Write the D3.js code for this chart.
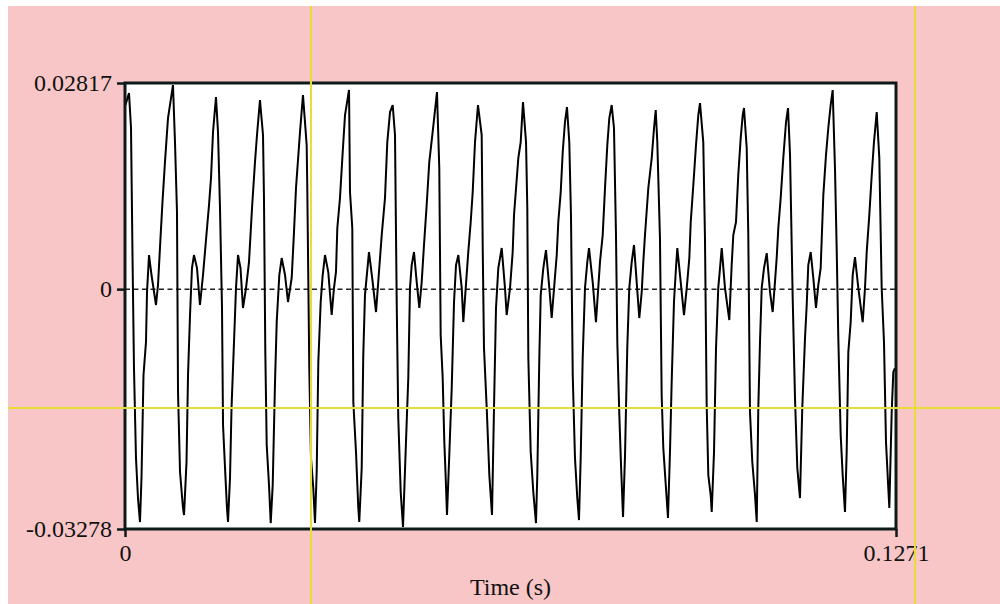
<!DOCTYPE html>
<html>
<head>
<meta charset="utf-8">
<script src="https://cdn.jsdelivr.net/npm/d3@7"></script>
<style>
  html, body { margin: 0; padding: 0; background: #ffffff; }
  svg { display: block; }
</style>
</head>
<body>
<svg id="chart" width="1000" height="604"></svg>
<script>
// ---- data (time in ms, amplitude in thousandths) ----
const xTickValues = [0, 0.1271];
const xTickLabels = ["0", "0.1271"];
const yTickValues = [-0.03278, 0, 0.02817];
const yTickLabels = ["-0.03278", "0", "0.02817"];
const xAxisTitle = "Time (s)";
const cursorTime = [0.03066, 0.13023];  // vertical cursor lines (s)
const cursorAmp = [-0.01624];           // horizontal cursor line

const wave = [
  [0.08,25.16],[0.66,26.80],[0.99,22.02],[1.24,4.39],[1.48,-10.78],[1.81,-23.08],[2.14,-28.55],[2.47,-31.83],[2.72,-25.82],[3.05,-11.74],[3.46,-7.23],[3.63,-0.40],[3.96,4.66],[4.37,1.93],[5.11,-2.17],[5.44,0.56],[5.85,6.98],[6.18,11.90],[6.59,17.37],[7.09,23.38],[7.91,27.89],
  [8.24,20.10],[8.57,10.54],[8.74,-14.06],[9.07,-25.00],[9.56,-29.91],[9.73,-30.87],[10.14,-23.63],[10.39,-11.74],[10.72,-3.54],[11.04,2.88],[11.37,4.66],[11.87,2.88],[12.36,-2.17],[12.86,1.93],[13.52,8.35],[13.85,11.49],[14.18,15.18],[14.51,21.48],[15.00,26.25],
  [15.33,21.48],[15.66,11.08],[15.99,-2.58],[16.16,-18.57],[16.49,-24.45],[16.81,-29.91],[16.98,-31.83],[17.31,-25.82],[17.56,-16.25],[17.97,-7.23],[18.30,0.15],[18.63,4.66],[19.04,2.88],[19.45,-2.58],[19.95,0.15],[20.44,3.70],[20.94,11.08],[21.43,17.37],[21.76,21.06],[22.25,25.84],
  [22.75,21.06],[22.91,12.45],[23.13,-8.60],[23.36,-21.31],[23.74,-26.77],[24.02,-31.97],[24.35,-26.77],[24.73,-12.70],[25.01,-4.50],[25.44,1.93],[25.83,4.25],[26.38,1.93],[26.87,-1.76],[27.48,1.52],[27.86,7.80],[28.19,13.82],[28.85,21.48],[29.34,26.53],
  [29.95,19.69],[30.05,13.82],[30.38,-10.78],[30.66,-23.08],[31.04,-27.18],[31.32,-31.97],[31.60,-25.00],[31.87,-9.96],[32.26,-1.76],[32.59,1.93],[32.97,4.66],[33.51,2.34],[34.07,-3.54],[34.45,0.15],[34.78,2.34],[35.00,8.35],[35.44,12.45],[35.89,18.74],[36.27,23.79],[36.93,27.21],
  [37.09,13.27],[37.47,8.35],[37.64,-15.43],[38.08,-22.26],[38.46,-29.91],[38.62,-31.83],[39.02,-24.45],[39.28,-9.01],[39.56,-0.81],[40.22,5.07],[40.83,0.97],[41.38,-3.13],[42.04,4.25],[42.32,7.39],[42.86,12.45],[43.24,20.10],[43.69,24.20],[44.13,25.16],
  [44.51,21.06],[44.79,-1.76],[45.05,-17.62],[45.45,-27.73],[45.83,-32.51],[46.32,-20.90],[46.70,-12.15],[46.98,0.15],[47.26,3.29],[47.64,5.07],[48.09,0.97],[48.52,-2.58],[48.91,0.97],[49.29,6.03],[49.73,11.49],[50.16,17.37],[50.72,21.48],[51.43,26.94],
  [51.81,16.55],[52.04,-6.27],[52.37,-12.15],[52.64,-20.90],[52.87,-25.82],[53.08,-30.87],[53.46,-22.67],[53.86,-13.52],[54.24,-1.76],[54.57,3.29],[54.95,4.66],[55.51,0.15],[55.77,-4.50],[56.59,5.07],[56.99,9.17],[57.32,13.27],[57.70,20.10],[58.19,25.16],
  [58.80,21.06],[58.97,5.62],[59.18,-8.05],[59.63,-16.25],[60.06,-25.41],[60.50,-30.87],[60.83,-16.25],[61.16,-2.58],[61.54,2.88],[62.10,5.62],[62.64,0.15],[62.92,-3.54],[63.47,0.15],[63.91,5.07],[64.13,10.13],[64.84,17.92],[65.23,20.10],[65.61,25.57],
  [66.11,20.10],[66.32,11.08],[66.49,-9.42],[66.88,-22.26],[67.31,-27.73],[67.75,-31.97],[67.97,-25.41],[68.30,-9.42],[68.53,-0.81],[68.96,2.88],[69.40,5.34],[69.95,0.15],[70.34,-3.95],[71.17,4.66],[71.43,9.17],[71.83,13.27],[72.16,18.74],[72.53,22.84],[72.86,24.88],
  [73.24,20.10],[73.52,10.13],[73.81,-11.74],[74.18,-23.08],[74.56,-28.55],[74.84,-31.56],[75.12,-23.08],[75.45,-9.42],[75.83,0.15],[76.21,3.70],[76.49,5.62],[77.10,0.97],[77.64,-4.50],[78.30,3.70],[78.75,7.39],[79.13,13.82],[79.51,19.69],[79.84,23.38],[80.23,25.16],
  [80.61,22.02],[80.94,7.39],[81.16,-7.23],[81.49,-17.21],[81.77,-24.04],[82.10,-31.15],[82.43,-22.67],[82.80,-8.05],[83.13,0.15],[83.53,3.70],[83.91,6.03],[84.35,0.97],[84.78,-3.95],[85.18,-0.40],[85.44,3.70],[85.72,7.39],[86.27,13.82],[86.83,17.92],[87.21,22.02],[87.49,24.47],
  [87.75,20.10],[88.19,6.98],[88.47,-14.47],[88.74,-21.72],[89.18,-27.18],[89.51,-31.28],[89.84,-22.26],[90.12,-12.70],[90.50,-1.76],[90.83,2.88],[91.05,5.62],[91.61,0.97],[92.15,-3.54],[92.60,0.15],[93.03,4.25],[93.26,9.17],[93.69,14.23],[94.13,19.69],[94.51,23.79],[94.79,25.43],
  [95.33,20.10],[95.61,6.98],[95.89,-15.84],[96.16,-25.41],[96.55,-28.14],[96.72,-30.46],[97.10,-22.26],[97.43,-8.05],[97.80,0.15],[98.09,2.88],[98.37,5.62],[98.91,0.15],[99.62,-4.22],[100.01,3.29],[100.28,7.39],[100.72,9.17],[101.10,15.59],[101.50,20.65],[101.83,23.79],[102.04,24.75],
  [102.49,19.28],[102.75,7.39],[103.03,-16.80],[103.41,-23.63],[103.86,-28.14],[104.14,-31.83],[104.40,-16.25],[104.68,-7.23],[104.96,0.15],[105.34,2.88],[105.79,4.93],[106.33,-0.40],[106.77,-3.13],[107.15,0.97],[107.43,4.25],[107.70,8.35],[108.09,12.45],[108.52,17.92],[108.97,22.84],[109.30,24.75],
  [109.63,18.33],[110.07,-1.22],[110.45,-14.88],[110.83,-24.45],[111.27,-28.55],[111.65,-16.25],[112.10,-6.68],[112.38,-2.17],[112.64,3.29],[113.04,5.07],[113.47,1.52],[113.91,-2.58],[114.29,0.56],[114.68,2.88],[115.12,12.86],[115.56,18.33],[115.94,22.02],[116.33,25.16],[116.66,27.21],
  [117.04,16.55],[117.32,5.62],[117.59,-6.68],[117.98,-19.94],[118.31,-25.41],[118.69,-30.46],[118.97,-22.26],[119.24,-8.60],[119.63,-4.50],[119.96,1.93],[120.34,4.39],[120.89,0.15],[121.61,-4.50],[121.99,0.15],[122.27,5.07],[122.70,10.13],[123.10,15.59],[123.47,20.10],[123.92,24.20],
  [124.35,17.92],[124.74,0.15],[125.12,-7.23],[125.45,-20.90],[125.83,-27.18],[126.00,-29.91],[126.39,-16.80],[126.66,-11.33],[126.93,-10.78]
];

// ---- drawing ----
const svg = d3.select("#chart");
const W = 1000, H = 604;
const plot = { left: 125, right: 896, top: 83, bottom: 529 };

const x = d3.scaleLinear().domain([0, 0.1271]).range([plot.left, plot.right]);
const y = d3.scaleLinear().domain([-0.03278, 0.02817]).range([plot.bottom, plot.top]);

const FONT = "'Liberation Serif', 'Times New Roman', serif";

// pink page background
svg.append("rect").attr("x", 8).attr("y", 6).attr("width", W - 8).attr("height", H - 6)
  .attr("fill", "#f8c6c6");

// white plot area
svg.append("rect")
  .attr("x", plot.left).attr("y", plot.top)
  .attr("width", plot.right - plot.left).attr("height", plot.bottom - plot.top)
  .attr("fill", "#ffffff");

// zero dashed line
svg.append("line")
  .attr("x1", plot.left).attr("x2", plot.right)
  .attr("y1", y(0)).attr("y2", y(0))
  .attr("stroke", "#222").attr("stroke-width", 1.5)
  .attr("stroke-dasharray", "5,3.5");

// waveform
const line = d3.line()
  .x(d => x(d[0] / 1000))
  .y(d => y(d[1] / 1000));
svg.append("path")
  .datum(wave)
  .attr("d", line)
  .attr("fill", "none")
  .attr("stroke", "#000")
  .attr("stroke-width", 2)
  .attr("stroke-linejoin", "miter");

// frame
svg.append("rect")
  .attr("x", plot.left).attr("y", plot.top)
  .attr("width", plot.right - plot.left).attr("height", plot.bottom - plot.top)
  .attr("fill", "none").attr("stroke", "#0d1a1a").attr("stroke-width", 3);

// axes
const yAxis = d3.axisLeft(y)
  .tickValues(yTickValues)
  .tickFormat((d, i) => yTickLabels[i])
  .tickSize(8).tickPadding(5);
const gy = svg.append("g").attr("transform", `translate(${plot.left},0)`).call(yAxis);

const xAxis = d3.axisBottom(x)
  .tickValues(xTickValues)
  .tickFormat((d, i) => xTickLabels[i])
  .tickSize(8).tickPadding(7);
const gx = svg.append("g").attr("transform", `translate(0,${plot.bottom})`).call(xAxis);

[gx, gy].forEach(g => {
  g.select(".domain").remove();
  g.selectAll(".tick line").attr("stroke", "#0d1a1a").attr("stroke-width", 2.5);
  g.selectAll(".tick text")
    .attr("fill", "#111")
    .style("font-family", FONT)
    .style("font-size", "24px");
});

// axis title
svg.append("text")
  .attr("x", (x(0) + x(0.1271)) / 2).attr("y", 595)
  .attr("text-anchor", "middle")
  .style("font-family", FONT).style("font-size", "24px")
  .attr("fill", "#111")
  .text(xAxisTitle);

// yellow cursor lines
svg.selectAll("line.vcur").data(cursorTime).enter().append("line")
  .attr("class", "vcur")
  .attr("x1", d => x(d)).attr("x2", d => x(d))
  .attr("y1", 6).attr("y2", H)
  .attr("stroke", "#e6dc3a").attr("stroke-width", 2);
svg.selectAll("line.hcur").data(cursorAmp).enter().append("line")
  .attr("class", "hcur")
  .attr("x1", 8).attr("x2", W)
  .attr("y1", d => y(d)).attr("y2", d => y(d))
  .attr("stroke", "#e6dc3a").attr("stroke-width", 2);
</script>
</body>
</html>
